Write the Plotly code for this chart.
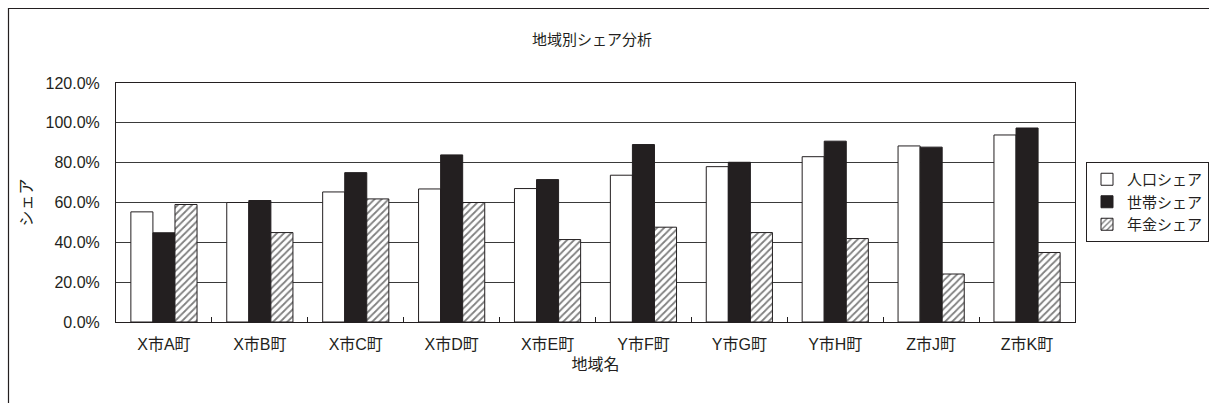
import plotly.graph_objects as go

# 地域ごとのシェア (%)
regions = ["X市A町", "X市B町", "X市C町", "X市D町", "X市E町",
           "Y市F町", "Y市G町", "Y市H町", "Z市J町", "Z市K町"]
population_share = [55.3, 60.0, 65.3, 66.8, 67.0, 73.7, 78.0, 83.0, 88.4, 93.9]
household_share = [44.8, 61.0, 75.0, 83.9, 71.5, 89.1, 80.2, 90.8, 87.8, 97.4]
pension_share = [59.0, 44.9, 61.8, 60.0, 41.4, 47.6, 44.9, 41.9, 24.1, 34.9]

y_ticks = [0, 20, 40, 60, 80, 100, 120]

FONT = "Liberation Sans, Noto Sans CJK JP, sans-serif"
INK = "#231f20"

fig = go.Figure()
fig.add_trace(go.Bar(
    name="人口シェア", x=regions, y=population_share,
    marker=dict(color="white", line=dict(color=INK, width=1)),
))
fig.add_trace(go.Bar(
    name="世帯シェア", x=regions, y=household_share,
    marker=dict(color=INK, line=dict(color=INK, width=1)),
))
fig.add_trace(go.Bar(
    name="年金シェア", x=regions, y=pension_share,
    marker=dict(color="white", line=dict(color=INK, width=1),
                pattern=dict(shape="/", fgcolor="#000000", bgcolor="white",
                             size=5, solidity=0.35)),
))

W, H = 1209, 403
L, R, T, B = 116, 134, 83, 81
pw, ph = W - L - R, H - T - B

def px_x(v):
    return (v - L) / pw

def px_y(v):
    return (H - B - v) / ph

fig.update_layout(
    width=W, height=H,
    margin=dict(l=L, r=R, t=T, b=B, autoexpand=False),
    paper_bgcolor="white", plot_bgcolor="white",
    font=dict(family=FONT, size=16, color=INK),
    barmode="group", bargap=0.31, bargroupgap=0,
    title=dict(text="地域別シェア分析", x=592 / W, xanchor="center",
               y=1 - 40 / H, yanchor="middle",
               font=dict(size=15, color=INK)),
    legend=dict(x=px_x(1086), y=px_y(162), xanchor="left", yanchor="top",
                bordercolor=INK, borderwidth=1, bgcolor="white",
                font=dict(size=15, color=INK), tracegroupgap=0,
                itemwidth=30),
    shapes=[dict(type="rect", xref="paper", yref="paper",
                 x0=px_x(8.5), x1=px_x(1215), y0=px_y(420), y1=px_y(8.5),
                 line=dict(color=INK, width=1.2), layer="below")],
)

fig.update_xaxes(
    showline=True, linecolor=INK, linewidth=1, mirror=True,
    tickson="boundaries", ticks="inside", ticklen=5, tickcolor=INK,
    ticklabelstandoff=8,
    tickfont=dict(size=16, color=INK),
    title=dict(text="地域名", font=dict(size=16, color=INK), standoff=6),
)
fig.update_yaxes(
    range=[0, 120], tickvals=y_ticks,
    ticktext=[f"{v:.1f}%" for v in y_ticks],
    showline=True, linecolor=INK, linewidth=1, mirror=True,
    showgrid=True, gridcolor="#3a3a3a", gridwidth=1,
    zeroline=False, ticks="", ticklabelstandoff=12,
    tickfont=dict(size=16, color=INK),
    title=dict(text="シェア", font=dict(size=16, color=INK), standoff=8),
)

fig.write_html("out.html")
